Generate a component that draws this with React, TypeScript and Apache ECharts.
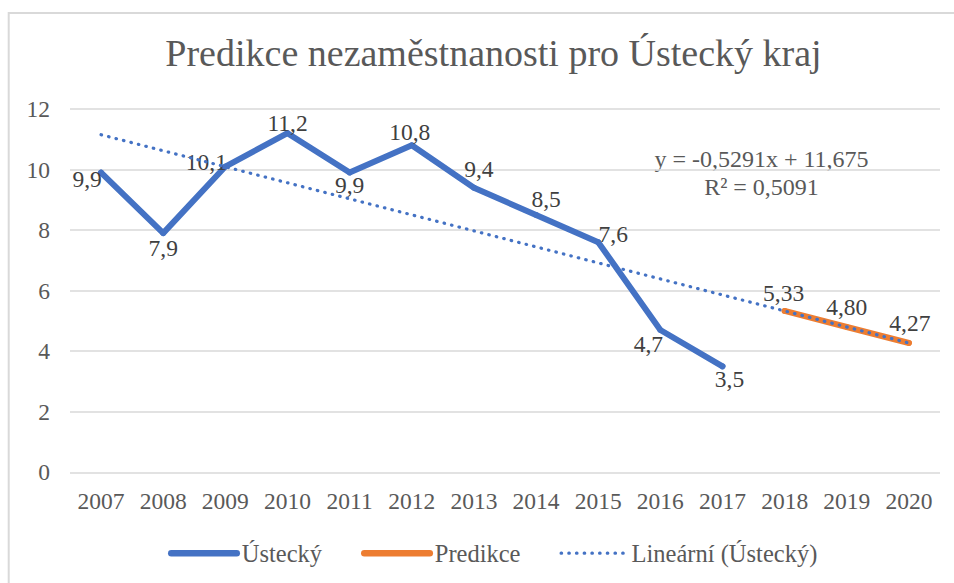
import React, { useEffect, useRef } from 'react';
import * as echarts from 'echarts';

const years = ['2007', '2008', '2009', '2010', '2011', '2012', '2013', '2014', '2015', '2016', '2017', '2018', '2019', '2020'];
const usteckyValues: (number | null)[] = [9.9, 7.9, 10.1, 11.2, 9.9, 10.8, 9.4, 8.5, 7.6, 4.7, 3.5, null, null, null];
const predikceValues: (number | null)[] = [null, null, null, null, null, null, null, null, null, null, null, 5.33, 4.8, 4.27];
const trendValues: (number | null)[] = [11.15, null, null, null, null, null, null, null, null, null, null, null, null, 4.27];
const yMin = 0;
const yMax = 12;
const yInterval = 2;
const titleText = 'Predikce nezaměstnanosti pro Ústecký kraj';
const seriesNames = ['Ústecký', 'Predikce', 'Lineární (Ústecký)'];
const equationLines = ['y = -0,5291x + 11,675', 'R² = 0,5091'];

// label offsets (style), relative to each point
const usteckyLabelOffsets: [number, number][] = [
  [-14, 6.5], [0, 15], [-19, -5], [0, -10], [0, 12], [-2, -13], [5, -19], [10, -16], [15, -8], [-12, 14], [7, 13], [0, 0], [0, 0], [0, 0],
];
const predikceLabelOffsets: [number, number][] = [
  [0, 0], [0, 0], [0, 0], [0, 0], [0, 0], [0, 0], [0, 0], [0, 0], [0, 0], [0, 0], [0, 0], [-1, -18], [0, -20], [1, -20],
];

const FONT = 'Liberation Serif, Times New Roman, serif';
const BLUE = '#4472C4';
const ORANGE = '#ED7D31';
const GRAY_TEXT = '#595959';
const LABEL_TEXT = '#404040';

export default function App() {
  const ref = useRef<HTMLDivElement>(null);

  useEffect(() => {
    if (!ref.current) return;
    const chart = echarts.init(ref.current, undefined, { renderer: 'svg' });

    const mkData = (vals: (number | null)[], offsets: [number, number][], digits: number) =>
      vals.map((v, i) =>
        v == null
          ? null
          : {
              value: v,
              label: {
                show: true,
                position: 'inside',
                offset: offsets[i],
                formatter: () => v.toFixed(digits).replace('.', ','),
              },
            }
      );

    const dotted: [number, number] = [0.5, 7.2];

    chart.setOption({
      animation: false,
      backgroundColor: '#ffffff',
      title: {
        text: titleText,
        left: 488.5,
        textAlign: 'center',
        top: 29,
        textStyle: { fontFamily: FONT, fontSize: 38, fontWeight: 'normal', color: GRAY_TEXT },
      },
      graphic: [
        {
          type: 'rect',
          shape: { x: 8.7, y: 13, width: 1200, height: 1000 },
          style: { fill: 'none', stroke: '#d9d9d9', lineWidth: 2 },
          silent: true,
          z: -10,
        },
        {
          type: 'text',
          x: 761.5,
          y: 159,
          style: {
            text: equationLines[0],
            fontFamily: FONT,
            fontSize: 24,
            fill: GRAY_TEXT,
            textAlign: 'center',
            textVerticalAlign: 'middle',
          },
        },
        {
          type: 'text',
          x: 761.5,
          y: 186.5,
          style: {
            text: equationLines[1],
            fontFamily: FONT,
            fontSize: 24,
            fill: GRAY_TEXT,
            textAlign: 'center',
            textVerticalAlign: 'middle',
          },
        },
      ],
      legend: {
        left: 163,
        top: 535.7,
        itemWidth: 65.5,
        itemHeight: 7,
        itemGap: 39,
        textStyle: { fontFamily: FONT, fontSize: 24.5, color: GRAY_TEXT },
        data: [
          { name: seriesNames[0], itemStyle: { opacity: 0 }, lineStyle: { width: 6.5, color: BLUE, cap: 'round', type: 'solid' } },
          { name: seriesNames[1], itemStyle: { opacity: 0 }, lineStyle: { width: 6.5, color: ORANGE, cap: 'round', type: 'solid' } },
          { name: seriesNames[2], itemStyle: { opacity: 0 }, lineStyle: { width: 3.2, color: BLUE, cap: 'round', type: dotted } },
        ],
      },
      grid: { left: 70, right: 14, top: 109, bottom: 110.7 },
      xAxis: {
        type: 'category',
        data: years,
        boundaryGap: true,
        axisLine: { show: false },
        axisTick: { show: false },
        axisLabel: { margin: 17, fontFamily: FONT, fontSize: 23.5, color: GRAY_TEXT, interval: 0 },
      },
      yAxis: {
        type: 'value',
        min: yMin,
        max: yMax,
        interval: yInterval,
        axisLine: { show: false },
        axisTick: { show: false },
        axisLabel: { margin: 20, fontFamily: FONT, fontSize: 23.5, color: GRAY_TEXT },
        splitLine: { lineStyle: { color: '#d9d9d9', width: 1.5 } },
      },
      series: [
        {
          name: seriesNames[0],
          type: 'line',
          data: mkData(usteckyValues, usteckyLabelOffsets, 1),
          symbol: 'circle',
          symbolSize: 6,
          itemStyle: { color: BLUE },
          lineStyle: { color: BLUE, width: 6, cap: 'round', join: 'round' },
          label: { show: true, fontFamily: FONT, fontSize: 23.5, color: LABEL_TEXT },
          z: 2,
        },
        {
          name: seriesNames[1],
          type: 'line',
          data: mkData(predikceValues, predikceLabelOffsets, 2),
          symbol: 'circle',
          symbolSize: 6,
          itemStyle: { color: ORANGE },
          lineStyle: { color: ORANGE, width: 6, cap: 'round', join: 'round' },
          label: { show: true, fontFamily: FONT, fontSize: 23.5, color: LABEL_TEXT },
          z: 3,
        },
        {
          name: seriesNames[2],
          type: 'line',
          data: trendValues,
          connectNulls: true,
          symbol: 'none',
          itemStyle: { color: BLUE },
          lineStyle: { color: BLUE, width: 3.2, cap: 'round', type: dotted },
          z: 4,
          silent: true,
        },
      ],
    });

    return () => chart.dispose();
  }, []);

  return <div ref={ref} style={{ position: 'fixed', left: 0, top: 0, width: 954, height: 583 }} />;
}
